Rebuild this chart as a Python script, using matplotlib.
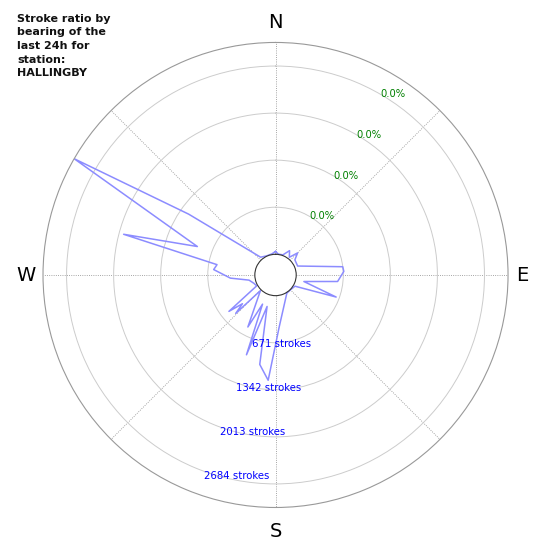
import numpy as np
import matplotlib
matplotlib.use("Agg")
import matplotlib.pyplot as plt

# bearing (deg) of each recorded bin and the stroke count there
bearing = [0, 8, 20, 30, 38, 45, 52, 68, 83, 87, 96, 103, 110, 120, 135, 148,
           176, 184, 190, 195, 200, 204, 208, 224, 226, 229, 232, 240, 249, 259, 266,
           275, 280, 285, 290, 300, 305, 320, 335, 350]
strokes = [40, 5, 10, 105, 25, 150, 55, 45, 670, 680, 595, 120, 625, 25, 5, 10,
           450, 1210, 1000, 170, 916, 160, 545, 15, 494, 330, 548, 15, 36, 90, 350,
           590, 552, 1947, 891, 3020, 1217, 36, 5, 10]

station = "HALLINGBY"
rmax = 3020
rticks = [671, 1342, 2013, 2684]
ratio_labels = ["0.0%", "0.0%", "0.0%", "0.0%"]
compass = ["N", "E", "S", "W"]
compass_deg = [0, 90, 180, 270]

fig = plt.figure(figsize=(5.5, 5.5), dpi=100)
ax = fig.add_axes([0.0782, 0.0773, 0.8455, 0.8455], projection="polar")
ax.set_theta_zero_location("N")
ax.set_theta_direction(-1)
ax.set_ylim(0, rmax)
ax.set_rorigin(-295)

theta = np.deg2rad(bearing + [bearing[0]])
ax.plot(theta, strokes + [strokes[0]], color="#8c8cff", lw=1.1)

ax.set_xticks(np.deg2rad(np.arange(0, 360, 45)))
ax.set_xticklabels([])
ax.set_yticks(rticks)
ax.set_yticklabels([])

ax.xaxis.grid(True, color="#888888", ls=":", lw=0.6)
ax.yaxis.grid(True, color="#cccccc", ls="-", lw=0.7)
ax.spines["polar"].set_color("#999999")
ax.spines["polar"].set_linewidth(0.8)
ax.spines["inner"].set_color("#333333")
ax.spines["inner"].set_linewidth(0.8)

# compass letters just outside the rim
offsets = [(0, 20), (14, -1), (0, -24), (-17, -1)]
for lab, deg, off in zip(compass, compass_deg, offsets):
    ax.annotate(lab, xy=(np.deg2rad(deg), rmax), xytext=off, textcoords="offset pixels",
                ha="center", va="center", fontsize=14, annotation_clip=False)

for t, lab in zip(rticks, ratio_labels):
    ax.text(np.deg2rad(30), t, lab, color="green", fontsize=7.2, ha="left", va="center")
    ax.text(np.deg2rad(200), t, f"{t} strokes", color="blue", fontsize=7.3, ha="left", va="top")

fig.text(0.031, 0.975, "Stroke ratio by\nbearing of the\nlast 24h for\nstation:\n" + station,
         fontsize=8, fontweight="bold", ha="left", va="top", color="#111111",
         linespacing=1.45)

fig.savefig("out.png", dpi=100)
